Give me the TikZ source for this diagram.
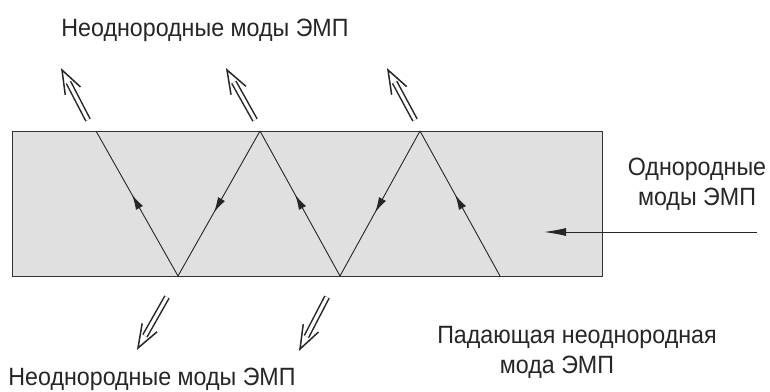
\documentclass[tikz,border=0pt]{standalone}
\usepackage{fontspec}
\setmainfont[FakeStretch=0.93]{Liberation Sans}
\usetikzlibrary{arrows.meta,decorations.markings,calc}
\begin{document}
\begin{tikzpicture}[x=1pt,y=-1pt,
  lbl/.style={anchor=base,inner sep=0pt,font=\fontsize{25}{29}\selectfont,text=black!85},
  ray/.style={draw=black!85,line width=0.9pt,postaction={decorate},
    decoration={markings,mark=at position 0.56 with {\arrow{Latex[length=15pt,width=8pt]}}}},
  evan/.style={draw=black!85,line width=1.5pt,double=white,double distance=3.2pt,shorten >=14pt},
  evhead/.style={draw=black!85,line width=1.5pt,line join=miter},
  slab/.style={fill=black!12,draw=black!80,line width=1.3pt}]
\useasboundingbox (0,0) rectangle (770,391);
\node[slab,minimum width=590pt,minimum height=145pt,anchor=north west,inner sep=0pt] (slab) at (12,131) {};
\coordinate (t1) at (96,131);
\coordinate (t2) at (260,131);
\coordinate (t3) at (420,131);
\coordinate (b1) at (178,276);
\coordinate (b2) at (340,276);
\coordinate (b3) at (500,276);
\coordinate (s) at (757,232);
\coordinate (e) at (544,232);
\draw[draw=black!85,line width=0.9pt,-{Latex[length=22pt,width=8pt]}] (s) -- (e);
\draw[ray] (b3) -- (t3);
\draw[ray] (t3) -- (b2);
\draw[ray] (b2) -- (t2);
\draw[ray] (t2) -- (b1);
\draw[ray] (b1) -- (t1);
\coordinate (u1a) at (88,120); \coordinate (u1b) at (62,70);
\coordinate (u2a) at (255,120); \coordinate (u2b) at (227,70);
\coordinate (u3a) at (415,120); \coordinate (u3b) at (388,70);
\coordinate (d1a) at (167,297); \coordinate (d1b) at (138,348);
\coordinate (d2a) at (327,297); \coordinate (d2b) at (300,349);
\foreach \a/\b in {u1a/u1b,u2a/u2b,u3a/u3b,d1a/d1b,d2a/d2b}{
  \draw[evan] (\a) -- (\b);
  \draw[evhead] ($(\b)!25pt!20:(\a)$) -- (\b) -- ($(\b)!25pt!-20:(\a)$);
}
\node[lbl] (top) at (205,36) {Неоднородные моды ЭМП};
\node[lbl] (bot) at (152,385) {Неоднородные моды ЭМП};
\node[lbl] (r1) at (697,175) {Однородные};
\node[lbl] (r2) at (697,205) {моды ЭМП};
\node[lbl] (p1) at (577,343) {Падающая неоднородная};
\node[lbl] (p2) at (557,373) {мода ЭМП};
\end{tikzpicture}
\end{document}
